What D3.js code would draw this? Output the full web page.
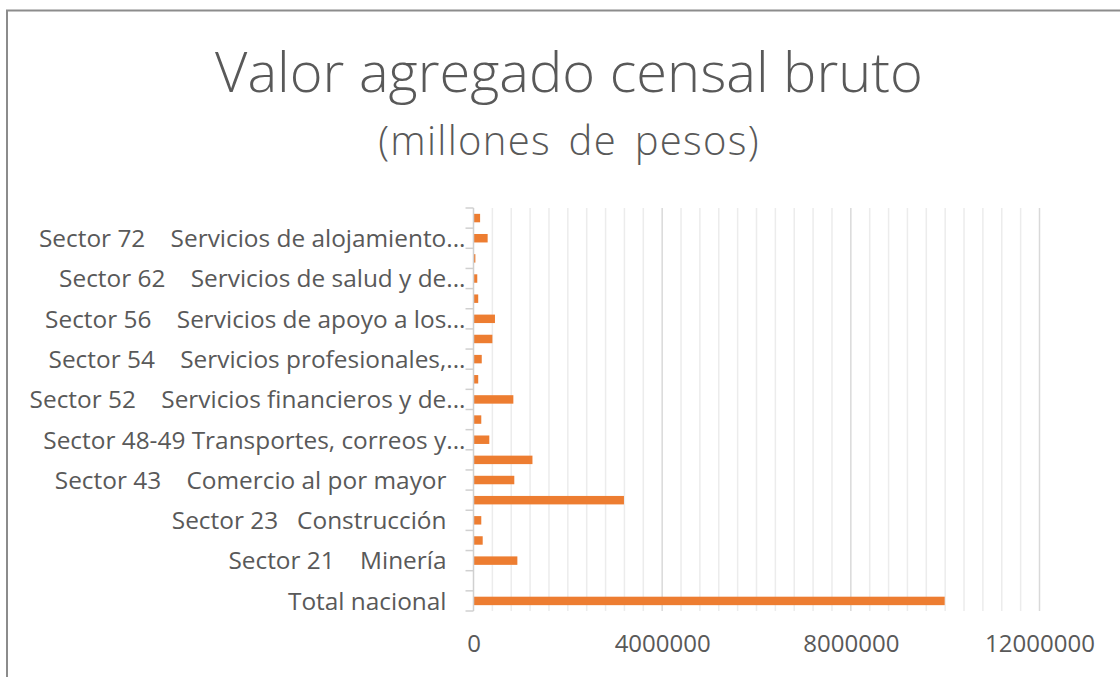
<!DOCTYPE html>
<html>
<head>
<meta charset="utf-8">
<script src="https://cdn.jsdelivr.net/npm/d3@7"></script>
<style>
  body { margin: 0; background: #fff; }
  text { font-family: "Open Sans", sans-serif; fill: #595959; }
</style>
</head>
<body>
<div id="chart"></div>
<script>
/* Valor agregado censal bruto - horizontal bars */

// categories from bottom to top, as in the sheet
const sectors = [
    "Total nacional",
    "Sector 11 Agricultura, cría y explotación de animales, aprovechamiento forestal, pesca y caza",
    "Sector 21 Minería",
    "Sector 22 Generación, transmisión, distribución y comercialización de energía eléctrica, suministro de agua y de gas",
    "Sector 23 Construcción",
    "Sector 31-33 Industrias manufactureras",
    "Sector 43 Comercio al por mayor",
    "Sector 46 Comercio al por menor",
    "Sector 48-49 Transportes, correos y almacenamiento",
    "Sector 51 Información en medios masivos",
    "Sector 52 Servicios financieros y de seguros",
    "Sector 53 Servicios inmobiliarios y de alquiler de bienes muebles e intangibles",
    "Sector 54 Servicios profesionales, científicos y técnicos",
    "Sector 55 Corporativos",
    "Sector 56 Servicios de apoyo a los negocios y manejo de residuos, y servicios de remediación",
    "Sector 61 Servicios educativos",
    "Sector 62 Servicios de salud y de asistencia social",
    "Sector 71 Servicios de esparcimiento culturales y deportivos, y otros servicios recreativos",
    "Sector 72 Servicios de alojamiento temporal y de preparación de alimentos y bebidas",
    "Sector 81 Otros servicios excepto actividades gubernamentales"
];

// millones de pesos
const values = [
    9990000, 0, 930000, 195000, 165000, 3190000, 865000, 1250000, 335000, 165000,
    845000, 100000, 175000, 400000, 455000, 100000, 80000, 40000, 300000, 140000
];

// what excel actually shows on the category axis (every other one)
const tickLabels = [
    "Total nacional", null,
    "Sector 21    Minería", null,
    "Sector 23   Construcción", null,
    "Sector 43    Comercio al por mayor", null,
    "Sector 48-49 Transportes, correos y...", null,
    "Sector 52    Servicios financieros y de...", null,
    "Sector 54    Servicios profesionales,...", null,
    "Sector 56    Servicios de apoyo a los...", null,
    "Sector 62    Servicios de salud y de...", null,
    "Sector 72    Servicios de alojamiento...", null
];

const xTicks = [0, 4000000, 8000000, 12000000];

const data = sectors.map((s, i) => ({ sector: s, value: values[i], label: tickLabels[i] }));

const width = 1120,
    height = 677,
    margin = ({ top: 208, right: 80.5, bottom: 66, left: 473.5 });

let svg = d3.select("#chart")
    .append("svg")
    .attr("width", width)
    .attr("height", height)
    .attr("viewBox", [0, 0, width, height]);

// chart border (cut off at right / bottom in the screenshot)
svg.append("rect")
    .attr("x", 7).attr("y", 10.5)
    .attr("width", width + 20).attr("height", height + 20)
    .attr("fill", "none")
    .attr("stroke", "#8c8c8c")
    .attr("stroke-width", 2);

const x = d3.scaleLinear()
    .domain([0, 12000000])
    .range([margin.left, width - margin.right]);

const y = d3.scaleBand()
    .domain(sectors)
    .range([height - margin.bottom, margin.top])
    .paddingInner(0.58)
    .paddingOuter(0.29);

// minor gridlines every 400000, major every 4000000
const minor = d3.range(400000, 12000001, 400000).filter(v => v % 4000000 !== 0);

svg.append("g")
    .selectAll("line")
    .data(minor)
    .join("line")
    .attr("x1", d => x(d)).attr("x2", d => x(d))
    .attr("y1", margin.top).attr("y2", height - margin.bottom)
    .attr("stroke", "#ececec")
    .attr("stroke-width", 1.5);

svg.append("g")
    .selectAll("line")
    .data(xTicks.slice(1))
    .join("line")
    .attr("x1", d => x(d)).attr("x2", d => x(d))
    .attr("y1", margin.top).attr("y2", height - margin.bottom)
    .attr("stroke", "#d9d9d9")
    .attr("stroke-width", 1.5);

// bars
svg.append("g")
    .selectAll("rect")
    .data(data)
    .join("rect")
    .attr("fill", "#ed7d31")
    .attr("x", x(0))
    .attr("y", d => y(d.sector))
    .attr("width", d => x(d.value) - x(0))
    .attr("height", y.bandwidth());

// category axis: line + ticks on the band edges
const step = y.step();
const edges = sectors.map(s => y(s) - (step - y.bandwidth()) / 2);
edges.push(height - margin.bottom);

const catAxis = svg.append("g").attr("stroke", "#d0d0d0").attr("stroke-width", 1.5);
catAxis.append("line")
    .attr("x1", x(0)).attr("x2", x(0))
    .attr("y1", margin.top).attr("y2", height - margin.bottom);
catAxis.selectAll(".tick")
    .data(edges)
    .join("line")
    .attr("class", "tick")
    .attr("x1", x(0) - 8).attr("x2", x(0))
    .attr("y1", d => d).attr("y2", d => d);

// category labels
svg.append("g")
    .selectAll("text")
    .data(data.filter(d => d.label))
    .join("text")
    .attr("x", d => d.label.endsWith("...") ? x(0) - 8 : x(0) - 27)
    .attr("y", d => y(d.sector) + y.bandwidth() / 2)
    .attr("dy", "0.36em")
    .attr("text-anchor", "end")
    .style("white-space", "pre")
    .style("font-size", "24.4px")
    .text(d => d.label);

// value axis labels
const xAxis = g => g
    .attr("transform", `translate(0,${height - margin.bottom + 21})`)
    .call(d3.axisBottom(x).tickValues(xTicks).tickFormat(d3.format("d")).tickSize(0))
    .call(g => g.select(".domain").remove())
    .call(g => g.selectAll("text").style("font-size", "24px").style("fill", "#595959").attr("font-family", null));

svg.append("g").call(xAxis);

// titles
svg.append("text")
    .attr("x", 569).attr("y", 92)
    .attr("text-anchor", "middle")
    .style("font-size", "56px")
    .style("font-weight", 300)
    .text("Valor agregado censal bruto");

svg.append("text")
    .attr("x", 569).attr("y", 155)
    .attr("text-anchor", "middle")
    .style("font-size", "40px")
    .style("font-weight", 300)
    .style("letter-spacing", "1.3px")
    .style("word-spacing", "6px")
    .text("(millones de pesos)");
</script>
</body>
</html>
